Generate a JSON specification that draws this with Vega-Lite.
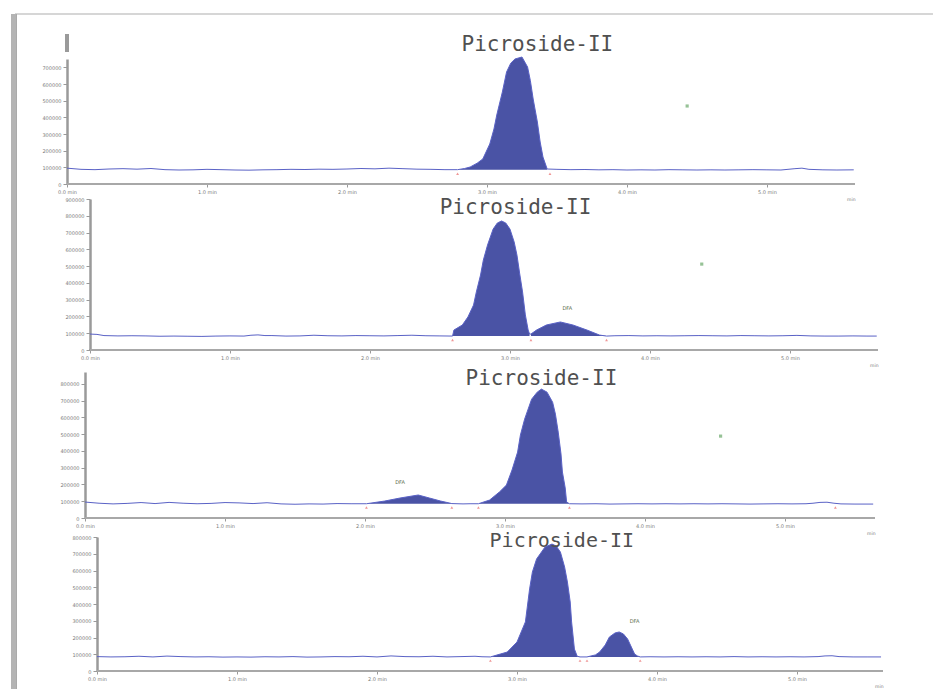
{
  "$schema": "https://vega.github.io/schema/vega-lite/v6.json",
  "background": "white",
  "padding": {"left": 11, "top": 11, "right": 5, "bottom": 3},
  "config": {
    "view": {"stroke": null},
    "axis": {"grid": false, "domainColor": "#9a9a9a", "tickColor": "#9a9a9a", "labelColor": "#7a7a7a", "labelFontSize": 5, "labelFont": "DejaVu Sans", "tickSize": 4, "labelPadding": 2, "labelOverlap": false, "labelBound": false, "labelFlush": false},
    "axisY": {"domainWidth": 2.5, "tickCount": 20},
    "axisX": {"domain": false, "tickSize": 3, "tickCount": 20, "titleFontSize": 4.5, "titleAnchor": "end", "titleColor": "#7a7a7a", "titlePadding": 2, "titleFont": "DejaVu Sans", "titleFontWeight": "normal"},
    "text": {"font": "DejaVu Sans"}
  },
  "datasets": {
    "p1": [
      {"t": 0.0, "v": 95000, "pk": null}, {"t": 0.1, "v": 88000, "pk": null}, {"t": 0.2, "v": 86000, "pk": null}, {"t": 0.3, "v": 90000, "pk": null}, {"t": 0.4, "v": 92000, "pk": null}, {"t": 0.5, "v": 89000, "pk": null}, {"t": 0.6, "v": 93000, "pk": null}, {"t": 0.7, "v": 86000, "pk": null}, {"t": 0.8, "v": 84000, "pk": null}, {"t": 0.9, "v": 85000, "pk": null}, {"t": 1.0, "v": 88000, "pk": null}, {"t": 1.1, "v": 86000, "pk": null}, {"t": 1.2, "v": 84000, "pk": null}, {"t": 1.3, "v": 83000, "pk": null}, {"t": 1.4, "v": 85000, "pk": null}, {"t": 1.5, "v": 86000, "pk": null}, {"t": 1.6, "v": 88000, "pk": null}, {"t": 1.7, "v": 87000, "pk": null}, {"t": 1.8, "v": 89000, "pk": null}, {"t": 1.9, "v": 88000, "pk": null}, {"t": 2.0, "v": 90000, "pk": null}, {"t": 2.1, "v": 93000, "pk": null}, {"t": 2.2, "v": 91000, "pk": null}, {"t": 2.3, "v": 95000, "pk": null}, {"t": 2.4, "v": 92000, "pk": null}, {"t": 2.5, "v": 89000, "pk": null}, {"t": 2.6, "v": 88000, "pk": null}, {"t": 2.7, "v": 86000, "pk": null},
      {"t": 2.79, "v": 86000, "pk": "P"}, {"t": 2.84, "v": 93000, "pk": "P"}, {"t": 2.88, "v": 102000, "pk": "P"}, {"t": 2.93, "v": 125000, "pk": "P"}, {"t": 2.97, "v": 150000, "pk": "P"}, {"t": 3.02, "v": 240000, "pk": "P"}, {"t": 3.05, "v": 330000, "pk": "P"}, {"t": 3.07, "v": 414000, "pk": "P"}, {"t": 3.11, "v": 552000, "pk": "P"}, {"t": 3.14, "v": 672000, "pk": "P"}, {"t": 3.17, "v": 725000, "pk": "P"}, {"t": 3.2, "v": 750000, "pk": "P"}, {"t": 3.25, "v": 762000, "pk": "P"}, {"t": 3.29, "v": 702000, "pk": "P"}, {"t": 3.31, "v": 620000, "pk": "P"}, {"t": 3.33, "v": 510000, "pk": "P"}, {"t": 3.36, "v": 372000, "pk": "P"}, {"t": 3.38, "v": 252000, "pk": "P"}, {"t": 3.4, "v": 162000, "pk": "P"}, {"t": 3.43, "v": 90000, "pk": "P"},
      {"t": 3.5, "v": 88000, "pk": null}, {"t": 3.6, "v": 86000, "pk": null}, {"t": 3.7, "v": 87000, "pk": null}, {"t": 3.8, "v": 85000, "pk": null}, {"t": 3.9, "v": 86000, "pk": null}, {"t": 4.0, "v": 84000, "pk": null}, {"t": 4.1, "v": 85000, "pk": null}, {"t": 4.2, "v": 84000, "pk": null}, {"t": 4.3, "v": 86000, "pk": null}, {"t": 4.4, "v": 85000, "pk": null}, {"t": 4.5, "v": 84000, "pk": null}, {"t": 4.6, "v": 85000, "pk": null}, {"t": 4.7, "v": 84000, "pk": null}, {"t": 4.8, "v": 85000, "pk": null}, {"t": 4.9, "v": 86000, "pk": null}, {"t": 5.0, "v": 85000, "pk": null}, {"t": 5.1, "v": 84000, "pk": null}, {"t": 5.2, "v": 92000, "pk": null}, {"t": 5.25, "v": 95000, "pk": null}, {"t": 5.3, "v": 88000, "pk": null}, {"t": 5.4, "v": 85000, "pk": null}, {"t": 5.5, "v": 84000, "pk": null}, {"t": 5.62, "v": 85000, "pk": null}
    ],
    "p2": [
      {"t": 0.0, "v": 95000, "pk": null}, {"t": 0.05, "v": 93000, "pk": null}, {"t": 0.1, "v": 86000, "pk": null}, {"t": 0.2, "v": 84000, "pk": null}, {"t": 0.3, "v": 85000, "pk": null}, {"t": 0.4, "v": 84000, "pk": null}, {"t": 0.5, "v": 82000, "pk": null}, {"t": 0.6, "v": 83000, "pk": null}, {"t": 0.7, "v": 82000, "pk": null}, {"t": 0.8, "v": 81000, "pk": null}, {"t": 0.9, "v": 83000, "pk": null}, {"t": 1.0, "v": 84000, "pk": null}, {"t": 1.1, "v": 83000, "pk": null}, {"t": 1.15, "v": 88000, "pk": null}, {"t": 1.2, "v": 90000, "pk": null}, {"t": 1.25, "v": 86000, "pk": null}, {"t": 1.3, "v": 86000, "pk": null}, {"t": 1.4, "v": 83000, "pk": null}, {"t": 1.5, "v": 84000, "pk": null}, {"t": 1.6, "v": 88000, "pk": null}, {"t": 1.7, "v": 85000, "pk": null}, {"t": 1.8, "v": 84000, "pk": null}, {"t": 1.9, "v": 86000, "pk": null}, {"t": 2.0, "v": 85000, "pk": null}, {"t": 2.1, "v": 84000, "pk": null}, {"t": 2.2, "v": 86000, "pk": null}, {"t": 2.3, "v": 88000, "pk": null}, {"t": 2.4, "v": 85000, "pk": null}, {"t": 2.5, "v": 84000, "pk": null},
      {"t": 2.59, "v": 83000, "pk": "P"}, {"t": 2.6, "v": 119000, "pk": "P"}, {"t": 2.66, "v": 149000, "pk": "P"}, {"t": 2.7, "v": 197000, "pk": "P"}, {"t": 2.74, "v": 268000, "pk": "P"}, {"t": 2.76, "v": 346000, "pk": "P"}, {"t": 2.79, "v": 447000, "pk": "P"}, {"t": 2.81, "v": 536000, "pk": "P"}, {"t": 2.84, "v": 626000, "pk": "P"}, {"t": 2.88, "v": 721000, "pk": "P"}, {"t": 2.91, "v": 757000, "pk": "P"}, {"t": 2.94, "v": 769000, "pk": "P"}, {"t": 2.97, "v": 757000, "pk": "P"}, {"t": 3.0, "v": 721000, "pk": "P"}, {"t": 3.03, "v": 644000, "pk": "P"}, {"t": 3.05, "v": 566000, "pk": "P"}, {"t": 3.07, "v": 453000, "pk": "P"}, {"t": 3.09, "v": 346000, "pk": "P"}, {"t": 3.11, "v": 209000, "pk": "P"}, {"t": 3.13, "v": 119000, "pk": "P"}, {"t": 3.14, "v": 95000, "pk": "P"},
      {"t": 3.15, "v": 95000, "pk": "D"}, {"t": 3.19, "v": 119000, "pk": "D"}, {"t": 3.26, "v": 149000, "pk": "D"}, {"t": 3.36, "v": 167000, "pk": "D"}, {"t": 3.45, "v": 149000, "pk": "D"}, {"t": 3.55, "v": 119000, "pk": "D"}, {"t": 3.64, "v": 89000, "pk": "D"}, {"t": 3.69, "v": 83000, "pk": "D"},
      {"t": 3.75, "v": 85000, "pk": null}, {"t": 3.85, "v": 86000, "pk": null}, {"t": 3.95, "v": 84000, "pk": null}, {"t": 4.05, "v": 85000, "pk": null}, {"t": 4.15, "v": 84000, "pk": null}, {"t": 4.25, "v": 85000, "pk": null}, {"t": 4.35, "v": 86000, "pk": null}, {"t": 4.45, "v": 85000, "pk": null}, {"t": 4.55, "v": 84000, "pk": null}, {"t": 4.65, "v": 86000, "pk": null}, {"t": 4.75, "v": 85000, "pk": null}, {"t": 4.85, "v": 84000, "pk": null}, {"t": 4.95, "v": 85000, "pk": null}, {"t": 5.05, "v": 87000, "pk": null}, {"t": 5.15, "v": 84000, "pk": null}, {"t": 5.25, "v": 83000, "pk": null}, {"t": 5.35, "v": 83000, "pk": null}, {"t": 5.45, "v": 84000, "pk": null}, {"t": 5.55, "v": 83000, "pk": null}, {"t": 5.62, "v": 83000, "pk": null}
    ],
    "p3": [
      {"t": 0.0, "v": 95000, "pk": null}, {"t": 0.1, "v": 88000, "pk": null}, {"t": 0.2, "v": 84000, "pk": null}, {"t": 0.3, "v": 87000, "pk": null}, {"t": 0.4, "v": 92000, "pk": null}, {"t": 0.5, "v": 86000, "pk": null}, {"t": 0.6, "v": 93000, "pk": null}, {"t": 0.7, "v": 88000, "pk": null}, {"t": 0.8, "v": 85000, "pk": null}, {"t": 0.9, "v": 87000, "pk": null}, {"t": 1.0, "v": 92000, "pk": null}, {"t": 1.1, "v": 90000, "pk": null}, {"t": 1.2, "v": 86000, "pk": null}, {"t": 1.3, "v": 91000, "pk": null}, {"t": 1.4, "v": 84000, "pk": null}, {"t": 1.5, "v": 82000, "pk": null}, {"t": 1.6, "v": 84000, "pk": null}, {"t": 1.7, "v": 83000, "pk": null}, {"t": 1.8, "v": 86000, "pk": null}, {"t": 1.9, "v": 85000, "pk": null},
      {"t": 2.01, "v": 85000, "pk": "D"}, {"t": 2.14, "v": 101000, "pk": "D"}, {"t": 2.25, "v": 119000, "pk": "D"}, {"t": 2.38, "v": 137000, "pk": "D"}, {"t": 2.46, "v": 119000, "pk": "D"}, {"t": 2.54, "v": 101000, "pk": "D"}, {"t": 2.62, "v": 86000, "pk": "D"},
      {"t": 2.7, "v": 84000, "pk": null}, {"t": 2.75, "v": 85000, "pk": null},
      {"t": 2.81, "v": 85000, "pk": "P"}, {"t": 2.89, "v": 107000, "pk": "P"}, {"t": 2.96, "v": 155000, "pk": "P"}, {"t": 3.01, "v": 196000, "pk": "P"}, {"t": 3.05, "v": 286000, "pk": "P"}, {"t": 3.09, "v": 393000, "pk": "P"}, {"t": 3.11, "v": 494000, "pk": "P"}, {"t": 3.14, "v": 589000, "pk": "P"}, {"t": 3.19, "v": 708000, "pk": "P"}, {"t": 3.23, "v": 750000, "pk": "P"}, {"t": 3.26, "v": 768000, "pk": "P"}, {"t": 3.3, "v": 750000, "pk": "P"}, {"t": 3.34, "v": 690000, "pk": "P"}, {"t": 3.36, "v": 619000, "pk": "P"}, {"t": 3.38, "v": 512000, "pk": "P"}, {"t": 3.4, "v": 381000, "pk": "P"}, {"t": 3.41, "v": 274000, "pk": "P"}, {"t": 3.43, "v": 179000, "pk": "P"}, {"t": 3.44, "v": 95000, "pk": "P"}, {"t": 3.46, "v": 85000, "pk": "P"},
      {"t": 3.55, "v": 84000, "pk": null}, {"t": 3.65, "v": 85000, "pk": null}, {"t": 3.75, "v": 83000, "pk": null}, {"t": 3.85, "v": 84000, "pk": null}, {"t": 3.95, "v": 85000, "pk": null}, {"t": 4.05, "v": 84000, "pk": null}, {"t": 4.15, "v": 85000, "pk": null}, {"t": 4.25, "v": 84000, "pk": null}, {"t": 4.35, "v": 85000, "pk": null}, {"t": 4.45, "v": 84000, "pk": null}, {"t": 4.55, "v": 85000, "pk": null}, {"t": 4.65, "v": 84000, "pk": null}, {"t": 4.75, "v": 83000, "pk": null}, {"t": 4.85, "v": 84000, "pk": null}, {"t": 4.95, "v": 85000, "pk": null}, {"t": 5.05, "v": 84000, "pk": null}, {"t": 5.15, "v": 85000, "pk": null}, {"t": 5.2, "v": 88000, "pk": null}, {"t": 5.25, "v": 93000, "pk": null}, {"t": 5.3, "v": 94000, "pk": null}, {"t": 5.35, "v": 88000, "pk": null}, {"t": 5.4, "v": 84000, "pk": null}, {"t": 5.5, "v": 83000, "pk": null}, {"t": 5.63, "v": 83000, "pk": null}
    ],
    "p4": [
      {"t": 0.0, "v": 86000, "pk": null}, {"t": 0.1, "v": 84000, "pk": null}, {"t": 0.2, "v": 85000, "pk": null}, {"t": 0.3, "v": 88000, "pk": null}, {"t": 0.4, "v": 84000, "pk": null}, {"t": 0.5, "v": 89000, "pk": null}, {"t": 0.6, "v": 86000, "pk": null}, {"t": 0.7, "v": 84000, "pk": null}, {"t": 0.8, "v": 85000, "pk": null}, {"t": 0.9, "v": 83000, "pk": null}, {"t": 1.0, "v": 84000, "pk": null}, {"t": 1.1, "v": 83000, "pk": null}, {"t": 1.2, "v": 85000, "pk": null}, {"t": 1.3, "v": 84000, "pk": null}, {"t": 1.4, "v": 86000, "pk": null}, {"t": 1.5, "v": 83000, "pk": null}, {"t": 1.6, "v": 84000, "pk": null}, {"t": 1.7, "v": 86000, "pk": null}, {"t": 1.8, "v": 85000, "pk": null}, {"t": 1.9, "v": 88000, "pk": null}, {"t": 2.0, "v": 84000, "pk": null}, {"t": 2.1, "v": 90000, "pk": null}, {"t": 2.2, "v": 86000, "pk": null}, {"t": 2.3, "v": 85000, "pk": null}, {"t": 2.4, "v": 88000, "pk": null}, {"t": 2.5, "v": 84000, "pk": null}, {"t": 2.6, "v": 86000, "pk": null}, {"t": 2.7, "v": 88000, "pk": null}, {"t": 2.75, "v": 85000, "pk": null},
      {"t": 2.81, "v": 84000, "pk": "P"}, {"t": 2.88, "v": 101000, "pk": "P"}, {"t": 2.93, "v": 113000, "pk": "P"}, {"t": 3.0, "v": 173000, "pk": "P"}, {"t": 3.06, "v": 293000, "pk": "P"}, {"t": 3.09, "v": 490000, "pk": "P"}, {"t": 3.11, "v": 591000, "pk": "P"}, {"t": 3.14, "v": 669000, "pk": "P"}, {"t": 3.2, "v": 740000, "pk": "P"}, {"t": 3.25, "v": 758000, "pk": "P"}, {"t": 3.28, "v": 746000, "pk": "P"}, {"t": 3.31, "v": 710000, "pk": "P"}, {"t": 3.34, "v": 621000, "pk": "P"}, {"t": 3.36, "v": 531000, "pk": "P"}, {"t": 3.38, "v": 412000, "pk": "P"}, {"t": 3.39, "v": 293000, "pk": "P"}, {"t": 3.41, "v": 131000, "pk": "P"}, {"t": 3.43, "v": 88000, "pk": "P"}, {"t": 3.45, "v": 84000, "pk": "P"},
      {"t": 3.5, "v": 84000, "pk": "D"}, {"t": 3.56, "v": 96000, "pk": "D"}, {"t": 3.59, "v": 113000, "pk": "D"}, {"t": 3.63, "v": 155000, "pk": "D"}, {"t": 3.66, "v": 203000, "pk": "D"}, {"t": 3.7, "v": 227000, "pk": "D"}, {"t": 3.73, "v": 233000, "pk": "D"}, {"t": 3.76, "v": 221000, "pk": "D"}, {"t": 3.79, "v": 191000, "pk": "D"}, {"t": 3.81, "v": 155000, "pk": "D"}, {"t": 3.84, "v": 101000, "pk": "D"}, {"t": 3.86, "v": 90000, "pk": "D"}, {"t": 3.88, "v": 84000, "pk": "D"},
      {"t": 3.95, "v": 85000, "pk": null}, {"t": 4.05, "v": 84000, "pk": null}, {"t": 4.15, "v": 85000, "pk": null}, {"t": 4.25, "v": 84000, "pk": null}, {"t": 4.35, "v": 85000, "pk": null}, {"t": 4.45, "v": 84000, "pk": null}, {"t": 4.55, "v": 86000, "pk": null}, {"t": 4.65, "v": 84000, "pk": null}, {"t": 4.75, "v": 85000, "pk": null}, {"t": 4.85, "v": 84000, "pk": null}, {"t": 4.95, "v": 85000, "pk": null}, {"t": 5.05, "v": 84000, "pk": null}, {"t": 5.15, "v": 86000, "pk": null}, {"t": 5.2, "v": 90000, "pk": null}, {"t": 5.25, "v": 91000, "pk": null}, {"t": 5.3, "v": 86000, "pk": null}, {"t": 5.4, "v": 84000, "pk": null}, {"t": 5.5, "v": 84000, "pk": null}, {"t": 5.6, "v": 84000, "pk": null}
    ]
  },
  "vconcat": [
    {
      "width": 788, "height": 125,
      "data": {"name": "p1"},
      "layer": [
        {"mark": {"type": "rule", "color": "#d6d6d6", "strokeWidth": 1.5}, "encoding": {"x": {"datum": -0.37}, "x2": {"datum": 6.18}, "y": {"datum": 1020000}}},
        {"mark": {"type": "rule", "color": "#b4b4b4", "strokeWidth": 5}, "encoding": {"x": {"datum": -0.382}, "y": {"datum": 1020000}, "y2": {"datum": -3030000}}},
        {"mark": {"type": "rule", "color": "#a8a8a8", "strokeWidth": 1.5}, "encoding": {"x": {"datum": 0}, "x2": {"datum": 5.629}, "y": {"datum": 0}}},
        {"mark": {"type": "rule", "color": "#9a9a9a", "strokeWidth": 2.5}, "encoding": {"x": {"datum": 0}, "y": {"datum": 792000}, "y2": {"datum": 900000}}},
        {"transform": [{"filter": "datum.pk != null"}], "mark": {"type": "area", "color": "#4a53a5"}, "encoding": {"x": {"field": "t", "type": "quantitative"}, "y": {"field": "v", "type": "quantitative"}, "y2": {"datum": 86000}, "detail": {"field": "pk"}}},
        {"mark": {"type": "line", "color": "#5a62c6", "strokeWidth": 1}, "encoding": {
          "x": {"field": "t", "type": "quantitative", "scale": {"domain": [0, 5.629], "nice": false, "zero": false}, "axis": {"title": "min", "tickCount": 20, "values": [0, 1, 2, 3, 4, 5], "labelExpr": "format(datum.value, '.1f') + ' min'"}},
          "y": {"field": "v", "type": "quantitative", "scale": {"domain": [0, 750000], "nice": false}, "axis": {"title": null, "tickCount": 20, "values": [0, 100000, 200000, 300000, 400000, 500000, 600000, 700000], "format": "d"}},
          "order": {"field": "t"}}},
        {"data": {"values": [{"t": 2.79, "v": 62000}, {"t": 3.45, "v": 62000}]}, "mark": {"type": "point", "shape": "triangle-up", "size": 8, "filled": true, "color": "#e86a6a"}, "encoding": {"x": {"field": "t", "type": "quantitative"}, "y": {"field": "v", "type": "quantitative"}}},
        {"data": {"values": [{"t": 4.43, "v": 468000}]}, "mark": {"type": "point", "shape": "square", "size": 10, "filled": true, "color": "#6aa86a"}, "encoding": {"x": {"field": "t", "type": "quantitative"}, "y": {"field": "v", "type": "quantitative"}}},
        {"data": {"values": [{"t": 3.36, "v": 834000, "label": "Picroside-II"}]}, "mark": {"type": "text", "font": "DejaVu Sans Mono", "fontSize": 21, "color": "#505050", "align": "center", "baseline": "middle"}, "encoding": {"x": {"field": "t", "type": "quantitative"}, "y": {"field": "v", "type": "quantitative"}, "text": {"field": "label"}}}
      ]
    },
    {
      "bounds": "flush", "spacing": 22,
      "vconcat": [
        {
          "width": 811, "height": 151,
          "data": {"name": "p2"},
          "layer": [
            {"mark": {"type": "rule", "color": "#a8a8a8", "strokeWidth": 1.5}, "encoding": {"x": {"datum": 0}, "x2": {"datum": 5.629}, "y": {"datum": 0}}},
            {"transform": [{"filter": "datum.pk != null"}], "mark": {"type": "area", "color": "#4a53a5"}, "encoding": {"x": {"field": "t", "type": "quantitative"}, "y": {"field": "v", "type": "quantitative"}, "y2": {"datum": 83000}, "detail": {"field": "pk"}}},
            {"mark": {"type": "line", "color": "#5a62c6", "strokeWidth": 1}, "encoding": {
              "x": {"field": "t", "type": "quantitative", "scale": {"domain": [-0.164, 5.629], "nice": false, "zero": false}, "axis": {"title": "min", "tickCount": 20, "values": [0, 1, 2, 3, 4, 5], "labelExpr": "format(datum.value, '.1f') + ' min'"}},
              "y": {"field": "v", "type": "quantitative", "scale": {"domain": [0, 900000], "nice": false}, "axis": {"title": null, "offset": -23, "tickCount": 20, "values": [0, 100000, 200000, 300000, 400000, 500000, 600000, 700000, 800000, 900000], "format": "d"}},
              "order": {"field": "t"}}},
            {"data": {"values": [{"t": 2.59, "v": 60000}, {"t": 3.15, "v": 60000}, {"t": 3.69, "v": 60000}]}, "mark": {"type": "point", "shape": "triangle-up", "size": 8, "filled": true, "color": "#e86a6a"}, "encoding": {"x": {"field": "t", "type": "quantitative"}, "y": {"field": "v", "type": "quantitative"}}},
            {"data": {"values": [{"t": 4.37, "v": 512000}]}, "mark": {"type": "point", "shape": "square", "size": 10, "filled": true, "color": "#6aa86a"}, "encoding": {"x": {"field": "t", "type": "quantitative"}, "y": {"field": "v", "type": "quantitative"}}},
            {"data": {"values": [{"t": 3.41, "v": 250000, "label": "DFA"}]}, "mark": {"type": "text", "fontSize": 5, "color": "#5a6a4a", "align": "center", "baseline": "middle"}, "encoding": {"x": {"field": "t", "type": "quantitative"}, "y": {"field": "v", "type": "quantitative"}, "text": {"field": "label"}}},
            {"data": {"values": [{"t": 3.04, "v": 846000, "label": "Picroside-II"}]}, "mark": {"type": "text", "font": "DejaVu Sans Mono", "fontSize": 21, "color": "#505050", "align": "center", "baseline": "middle"}, "encoding": {"x": {"field": "t", "type": "quantitative"}, "y": {"field": "v", "type": "quantitative"}, "text": {"field": "label"}}}
          ]
        },
        {
          "bounds": "flush", "spacing": 19,
          "vconcat": [
            {
              "width": 808, "height": 146,
              "data": {"name": "p3"},
              "layer": [
                {"mark": {"type": "rule", "color": "#a8a8a8", "strokeWidth": 1.5}, "encoding": {"x": {"datum": 0}, "x2": {"datum": 5.643}, "y": {"datum": 0}}},
                {"transform": [{"filter": "datum.pk != null"}], "mark": {"type": "area", "color": "#4a53a5"}, "encoding": {"x": {"field": "t", "type": "quantitative"}, "y": {"field": "v", "type": "quantitative"}, "y2": {"datum": 85000}, "detail": {"field": "pk"}}},
                {"mark": {"type": "line", "color": "#5a62c6", "strokeWidth": 1}, "encoding": {
                  "x": {"field": "t", "type": "quantitative", "scale": {"domain": [-0.129, 5.643], "nice": false, "zero": false}, "axis": {"title": "min", "tickCount": 20, "values": [0, 1, 2, 3, 4, 5], "labelExpr": "format(datum.value, '.1f') + ' min'"}},
                  "y": {"field": "v", "type": "quantitative", "scale": {"domain": [0, 870000], "nice": false}, "axis": {"title": null, "offset": -18, "tickCount": 20, "values": [0, 100000, 200000, 300000, 400000, 500000, 600000, 700000, 800000], "format": "d"}},
                  "order": {"field": "t"}}},
                {"data": {"values": [{"t": 2.01, "v": 62000}, {"t": 2.62, "v": 62000}, {"t": 2.81, "v": 62000}, {"t": 3.46, "v": 62000}, {"t": 5.36, "v": 62000}]}, "mark": {"type": "point", "shape": "triangle-up", "size": 8, "filled": true, "color": "#e86a6a"}, "encoding": {"x": {"field": "t", "type": "quantitative"}, "y": {"field": "v", "type": "quantitative"}}},
                {"data": {"values": [{"t": 4.54, "v": 488000}]}, "mark": {"type": "point", "shape": "square", "size": 10, "filled": true, "color": "#6aa86a"}, "encoding": {"x": {"field": "t", "type": "quantitative"}, "y": {"field": "v", "type": "quantitative"}}},
                {"data": {"values": [{"t": 2.25, "v": 214000, "label": "DFA"}]}, "mark": {"type": "text", "fontSize": 5, "color": "#5a6a4a", "align": "center", "baseline": "middle"}, "encoding": {"x": {"field": "t", "type": "quantitative"}, "y": {"field": "v", "type": "quantitative"}, "text": {"field": "label"}}},
                {"data": {"values": [{"t": 3.26, "v": 827000, "label": "Picroside-II"}]}, "mark": {"type": "text", "font": "DejaVu Sans Mono", "fontSize": 21, "color": "#505050", "align": "center", "baseline": "middle"}, "encoding": {"x": {"field": "t", "type": "quantitative"}, "y": {"field": "v", "type": "quantitative"}, "text": {"field": "label"}}}
              ]
            },
            {
              "width": 816, "height": 134,
              "data": {"name": "p4"},
              "layer": [
                {"mark": {"type": "rule", "color": "#a8a8a8", "strokeWidth": 1.5}, "encoding": {"x": {"datum": 0}, "x2": {"datum": 5.614}, "y": {"datum": 0}}},
                {"transform": [{"filter": "datum.pk != null"}], "mark": {"type": "area", "color": "#4a53a5"}, "encoding": {"x": {"field": "t", "type": "quantitative"}, "y": {"field": "v", "type": "quantitative"}, "y2": {"datum": 84000}, "detail": {"field": "pk"}}},
                {"mark": {"type": "line", "color": "#5a62c6", "strokeWidth": 1}, "encoding": {
                  "x": {"field": "t", "type": "quantitative", "scale": {"domain": [-0.214, 5.614], "nice": false, "zero": false}, "axis": {"title": "min", "tickCount": 20, "values": [0, 1, 2, 3, 4, 5], "labelExpr": "format(datum.value, '.1f') + ' min'"}},
                  "y": {"field": "v", "type": "quantitative", "scale": {"domain": [0, 800000], "nice": false}, "axis": {"title": null, "offset": -30, "tickCount": 20, "values": [0, 100000, 200000, 300000, 400000, 500000, 600000, 700000, 800000], "format": "d"}},
                  "order": {"field": "t"}}},
                {"data": {"values": [{"t": 2.81, "v": 62000}, {"t": 3.45, "v": 62000}, {"t": 3.5, "v": 62000}, {"t": 3.88, "v": 62000}]}, "mark": {"type": "point", "shape": "triangle-up", "size": 8, "filled": true, "color": "#e86a6a"}, "encoding": {"x": {"field": "t", "type": "quantitative"}, "y": {"field": "v", "type": "quantitative"}}},
                {"data": {"values": [{"t": 3.84, "v": 298000, "label": "DFA"}]}, "mark": {"type": "text", "fontSize": 5, "color": "#5a6a4a", "align": "center", "baseline": "middle"}, "encoding": {"x": {"field": "t", "type": "quantitative"}, "y": {"field": "v", "type": "quantitative"}, "text": {"field": "label"}}},
                {"data": {"values": [{"t": 3.32, "v": 775000, "label": "Picroside-II"}]}, "mark": {"type": "text", "font": "DejaVu Sans Mono", "fontSize": 20, "color": "#505050", "align": "center", "baseline": "middle"}, "encoding": {"x": {"field": "t", "type": "quantitative"}, "y": {"field": "v", "type": "quantitative"}, "text": {"field": "label"}}}
              ]
            }
          ]
        }
      ]
    }
  ],
  "spacing": 15,
  "bounds": "flush"
}
